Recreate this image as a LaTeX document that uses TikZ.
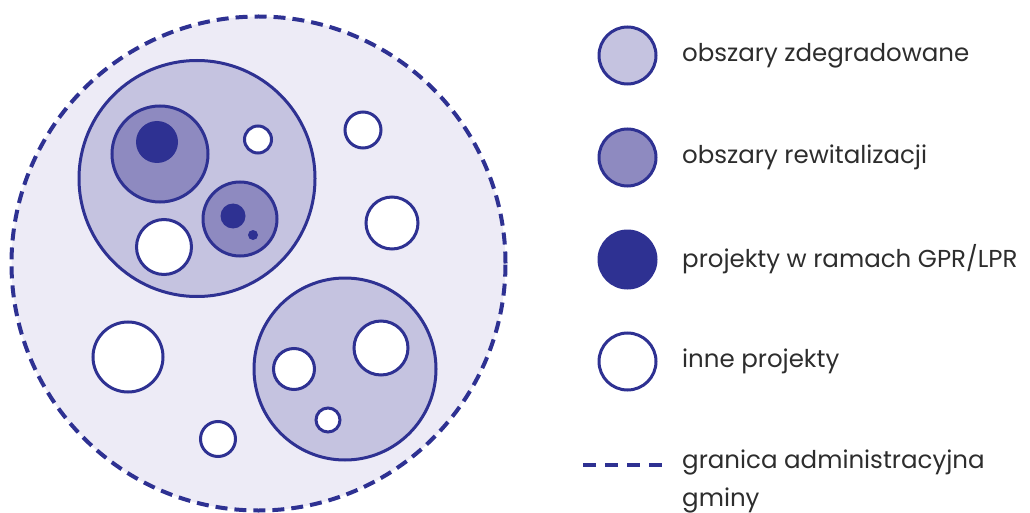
\documentclass[tikz,border=0pt]{standalone}
\usepackage{fontspec}
\setmainfont{Poppins}
\usepackage{xcolor}
\usepackage{tikz}
\usetikzlibrary{positioning}

\definecolor{gminaBlue}{HTML}{2E3192}
\definecolor{gminaFill}{HTML}{EDEBF6}
\definecolor{degFill}{HTML}{C5C3E0}
\definecolor{rewFill}{HTML}{8E8AC0}
\definecolor{txtGrey}{HTML}{2D2D2D}

\begin{document}
\begin{tikzpicture}[x=1pt,y=-1pt,
every node/.style={font=\fontsize{24.5}{38}\selectfont,text=txtGrey},
ring/.style={circle,draw=gminaBlue,line width=3pt,inner sep=0pt,minimum size=#1},
deg/.style={ring=#1,fill=degFill}, rew/.style={ring=#1,fill=rewFill},
proj/.style={ring=#1,fill=white}, gpr/.style={circle,fill=gminaBlue,inner sep=0pt,minimum size=#1},
label/.style={anchor=west,align=left,inner sep=0pt}]
\useasboundingbox (0,0) rectangle (1030,513);

% granica gminy
\node[circle,draw=gminaBlue,fill=gminaFill,line width=4pt,dash pattern=on 12pt off 7pt,
inner sep=0pt,minimum size=494pt] (gmina) at (258.5,263.5) {};

% obszar zdegradowany 1
\node[deg=236pt] (degA) at (197,178.5) {};
\node[rew=96pt] (rewA) at (160,154) {};
\node[gpr=42pt] (gprA) at (157,142) {};
\node[rew=74pt] (rewB) at (240,219) {};
\node[gpr=25pt] (gprB) at (233,216) {};
\node[gpr=10pt] (gprC) at (253,235) {};
\node[proj=27pt] (projA) at (258,139.5) {};
\node[proj=55pt] (projB) at (164,247) {};

% obszar zdegradowany 2
\node[deg=182pt] (degB) at (345,369) {};
\node[proj=54pt] (projC) at (381,348) {};
\node[proj=41pt] (projD) at (294,369) {};
\node[proj=24pt] (projE) at (328,420) {};

% inne projekty poza obszarami
\node[proj=36pt] (projF) at (363,130) {};
\node[proj=52pt] (projG) at (392,223) {};
\node[proj=70pt] (projH) at (128,357) {};
\node[proj=35pt] (projI) at (218,439) {};

% legenda
\node[deg=57pt] (keyDeg) at (627.5,55.5) {};
\node[rew=57pt] (keyRew) at (627.5,157.5) {};
\node[gpr=60pt] (keyGpr) at (627.5,259.5) {};
\node[proj=57pt] (keyProj) at (627.5,361.5) {};
\coordinate (keyLineA) at (583,465);
\coordinate (keyLineB) at (667,465);
\draw[gminaBlue,line width=4pt,dash pattern=on 13pt off 9pt] (keyLineA) -- (keyLineB);

\node[label] (txtDeg) at (682,55.5) {obszary zdegradowane};
\node[label] (txtRew) at (682,157.5) {obszary rewitalizacji};
\node[label] (txtGpr) at (682,259.5) {projekty w ramach GPR/LPR};
\node[label] (txtProj) at (682,361.5) {inne projekty};
\node[label] (txtGranica) at (682,481) {granica administracyjna\\gminy};
\end{tikzpicture}
\end{document}
